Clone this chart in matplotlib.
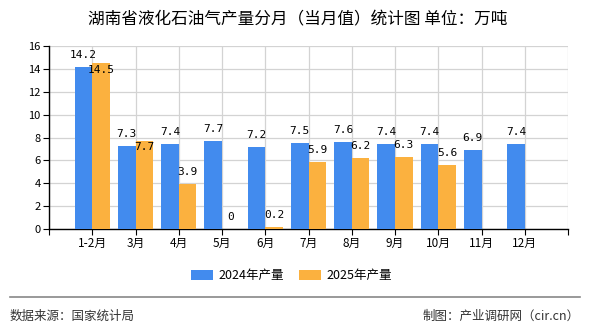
import matplotlib
matplotlib.use("Agg")
import matplotlib.pyplot as plt

plt.rcParams['font.family'] = ['Noto Sans CJK SC', 'DejaVu Sans']

months = ["1-2月", "3月", "4月", "5月", "6月", "7月", "8月", "9月", "10月", "11月", "12月"]
prod_2024 = [14.2, 7.3, 7.4, 7.7, 7.2, 7.5, 7.6, 7.4, 7.4, 6.9, 7.4]
prod_2025 = [14.5, 7.7, 3.9, 0, 0.2, 5.9, 6.2, 6.3, 5.6, None, None]

c24 = "#428bee"
c25 = "#fbb13f"

fig = plt.figure(figsize=(5.9, 3.3), dpi=100)
ax = fig.add_axes([49/590, 1-229/330, (568-49)/590, (229-46)/330])

w = 0.41
x = list(range(len(months)))
ax.bar([i - w/2 for i in x], prod_2024, width=w, color=c24, label="2024年产量", zorder=3)
x25 = [i + w/2 for i, v in zip(x, prod_2025) if v is not None]
v25 = [v for v in prod_2025 if v is not None]
ax.bar(x25, v25, width=w, color=c25, label="2025年产量", zorder=3)

# 数据标签
for i, v in zip(x, prod_2024):
    ax.annotate(f"{v:g}", (i - w/2, v), xytext=(0, 5), textcoords="offset points",
                ha="center", va="bottom", fontsize=8, family="DejaVu Sans Mono", zorder=4)
for i, v in zip(x, prod_2025):
    if v is None:
        continue
    if v > prod_2024[i]:
        # 与2024标签重叠时放到柱顶内侧
        ax.annotate(f"{v:g}", (i + w/2, v), xytext=(0, -1), textcoords="offset points",
                    ha="center", va="top", fontsize=8, family="DejaVu Sans Mono", zorder=4)
    else:
        ax.annotate(f"{v:g}", (i + w/2, v), xytext=(0, 5), textcoords="offset points",
                    ha="center", va="bottom", fontsize=8, family="DejaVu Sans Mono", zorder=4)

ax.set_xlim(-1, len(months))
ax.set_ylim(0, 16)
ax.set_yticks(range(0, 17, 2))
ax.set_xticks(range(-1, len(months) + 1))
ax.set_xticklabels([""] + months + [""])
ax.tick_params(axis="x", labelsize=8.5, length=4, pad=2)
ax.tick_params(axis="y", labelsize=8, length=4, pad=2)
ax.grid(True, color="#d3d3d3", linewidth=0.9, zorder=0)
ax.spines["top"].set_visible(False)
ax.spines["right"].set_visible(False)
ax.spines["left"].set_linewidth(1.0)
ax.spines["bottom"].set_linewidth(1.0)

fig.text(0.505, 1-20/330, "湖南省液化石油气产量分月（当月值）统计图 单位：万吨",
         ha="center", va="center", fontsize=12)

fig.legend(loc="center", bbox_to_anchor=(291/590, 1-276/330), ncol=2, frameon=False,
           fontsize=9, handlelength=1.8, handleheight=0.8, columnspacing=1.2, handletextpad=0.4)

fig.add_artist(plt.Line2D([10/590, 580/590], [1-297/330, 1-297/330], color="#888888", linewidth=1.2))
fig.text(10/590, 1-316/330, "数据来源：国家统计局", ha="left", va="center", fontsize=9, color="#333333")
fig.text(580/590, 1-316/330, "制图：产业调研网（cir.cn）", ha="right", va="center", fontsize=9, color="#333333")

fig.savefig("out.png", dpi=100)
